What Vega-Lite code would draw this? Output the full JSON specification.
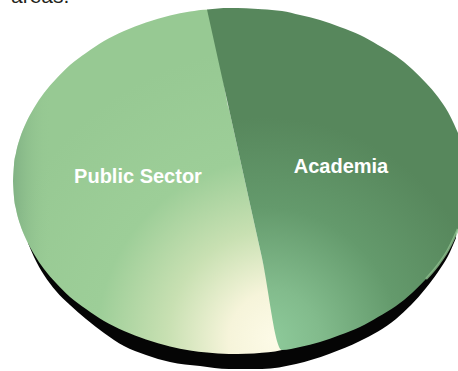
{
  "$schema": "https://vega.github.io/schema/vega-lite/v6.json",
  "width": 458,
  "height": 371,
  "padding": 0,
  "autosize": "none",
  "background": "#ffffff",
  "view": {"stroke": null},
  "datasets": {
    "rim": [
      {"x": 28, "top": 240, "bottom": 243},
      {"x": 34, "top": 252, "bottom": 257},
      {"x": 44, "top": 266, "bottom": 275},
      {"x": 56, "top": 280, "bottom": 291},
      {"x": 70, "top": 294, "bottom": 305},
      {"x": 86, "top": 306, "bottom": 319},
      {"x": 104, "top": 318, "bottom": 333},
      {"x": 124, "top": 328, "bottom": 346},
      {"x": 146, "top": 336, "bottom": 355},
      {"x": 170, "top": 343, "bottom": 362},
      {"x": 200, "top": 348, "bottom": 366},
      {"x": 229, "top": 351, "bottom": 369},
      {"x": 262, "top": 350, "bottom": 369},
      {"x": 296, "top": 344, "bottom": 364},
      {"x": 329, "top": 334, "bottom": 354},
      {"x": 360, "top": 324, "bottom": 341},
      {"x": 396, "top": 303, "bottom": 319},
      {"x": 426, "top": 276, "bottom": 288},
      {"x": 438, "top": 262, "bottom": 272},
      {"x": 448, "top": 247, "bottom": 256},
      {"x": 456, "top": 230, "bottom": 238}
    ],
    "publicSector": [
      {"x": 13, "top": 181, "bottom": 181},
      {"x": 14, "top": 165, "bottom": 197},
      {"x": 16, "top": 153, "bottom": 209},
      {"x": 20, "top": 138, "bottom": 224},
      {"x": 26, "top": 123, "bottom": 239},
      {"x": 34, "top": 108, "bottom": 254},
      {"x": 44, "top": 93, "bottom": 269},
      {"x": 56, "top": 79, "bottom": 283},
      {"x": 70, "top": 65, "bottom": 297},
      {"x": 86, "top": 53, "bottom": 309},
      {"x": 104, "top": 41, "bottom": 321},
      {"x": 124, "top": 31, "bottom": 331},
      {"x": 146, "top": 22.5, "bottom": 339.5},
      {"x": 170, "top": 15.6, "bottom": 346.4},
      {"x": 190, "top": 11.6, "bottom": 350.4},
      {"x": 207, "top": 9.4, "bottom": 352.6},
      {"x": 229, "top": 109, "bottom": 354},
      {"x": 246, "top": 186, "bottom": 353.8},
      {"x": 262, "top": 258, "bottom": 352.8},
      {"x": 275, "top": 317, "bottom": 351.4},
      {"x": 282, "top": 350, "bottom": 350}
    ],
    "academia": [
      {"x": 207, "top": 9.4, "bottom": 9.4},
      {"x": 229, "top": 8, "bottom": 109},
      {"x": 246, "top": 8.2, "bottom": 186},
      {"x": 262, "top": 9.2, "bottom": 258},
      {"x": 282, "top": 11, "bottom": 350},
      {"x": 300, "top": 15, "bottom": 347},
      {"x": 320, "top": 20, "bottom": 342},
      {"x": 340, "top": 27, "bottom": 335},
      {"x": 360, "top": 35, "bottom": 327},
      {"x": 378, "top": 45, "bottom": 317},
      {"x": 396, "top": 56, "bottom": 306},
      {"x": 412, "top": 69, "bottom": 293},
      {"x": 426, "top": 83, "bottom": 279},
      {"x": 438, "top": 97, "bottom": 265},
      {"x": 448, "top": 112, "bottom": 250},
      {"x": 454, "top": 124, "bottom": 238},
      {"x": 458, "top": 133, "bottom": 229}
    ],
    "labels": [
      {"x": 138, "y": 176.5, "label": "Public Sector"},
      {"x": 341, "y": 166.5, "label": "Academia"}
    ],
    "caption": [
      {"x": 11, "y": 3, "label": "areas."}
    ]
  },
  "encoding": {
    "x": {"field": "x", "type": "quantitative", "scale": {"domain": [0, 458], "nice": false, "zero": false}, "axis": null}
  },
  "layer": [
    {
      "data": {"name": "rim"},
      "mark": {"type": "area", "interpolate": "monotone", "color": "#050505"},
      "encoding": {
        "y": {"field": "top", "type": "quantitative", "scale": {"domain": [371, 0], "nice": false, "zero": false}, "axis": null},
        "y2": {"field": "bottom"}
      }
    },
    {
      "data": {"name": "publicSector"},
      "mark": {
        "type": "area",
        "interpolate": "monotone",
        "color": {
          "gradient": "radial",
          "x1": 0.88, "y1": 0.96, "r1": 0,
          "x2": 0.88, "y2": 0.96, "r2": 0.85,
          "stops": [
            {"offset": 0, "color": "#fdfbe8"},
            {"offset": 0.17, "color": "#f6f4da"},
            {"offset": 0.38, "color": "#c8e0b2"},
            {"offset": 0.62, "color": "#9dce98"},
            {"offset": 1, "color": "#97c993"}
          ]
        }
      },
      "encoding": {
        "y": {"field": "top", "type": "quantitative", "axis": null},
        "y2": {"field": "bottom"}
      }
    },
    {
      "data": {"name": "publicSector"},
      "mark": {
        "type": "area",
        "interpolate": "monotone",
        "color": {
          "gradient": "linear",
          "x1": 0, "y1": 0.5, "x2": 0.14, "y2": 0.5,
          "stops": [
            {"offset": 0, "color": "rgba(111,159,120,0.55)"},
            {"offset": 1, "color": "rgba(151,201,147,0)"}
          ]
        }
      },
      "encoding": {
        "y": {"field": "top", "type": "quantitative", "axis": null},
        "y2": {"field": "bottom"}
      }
    },
    {
      "data": {"name": "academia"},
      "mark": {
        "type": "area",
        "interpolate": "monotone",
        "color": {
          "gradient": "radial",
          "x1": 0.3, "y1": 0.98, "r1": 0,
          "x2": 0.3, "y2": 0.98, "r2": 0.66,
          "stops": [
            {"offset": 0, "color": "#8fcc9c"},
            {"offset": 0.25, "color": "#82bb8c"},
            {"offset": 0.6, "color": "#649a6c"},
            {"offset": 1, "color": "#57875c"}
          ]
        }
      },
      "encoding": {
        "y": {"field": "top", "type": "quantitative", "axis": null},
        "y2": {"field": "bottom"}
      }
    },
    {
      "data": {"name": "academia"},
      "transform": [{"filter": "datum.x >= 426"}],
      "mark": {"type": "line", "interpolate": "monotone", "color": "#8fc08f", "strokeWidth": 2.5, "opacity": 0.8},
      "encoding": {
        "y": {"field": "bottom", "type": "quantitative", "axis": null}
      }
    },
    {
      "data": {"name": "labels"},
      "mark": {"type": "text", "font": "Liberation Sans", "fontWeight": "bold", "fontSize": 20, "color": "#ffffff", "align": "center", "baseline": "middle"},
      "encoding": {
        "y": {"field": "y", "type": "quantitative", "axis": null},
        "text": {"field": "label"}
      }
    },
    {
      "data": {"name": "caption"},
      "mark": {"type": "text", "font": "Liberation Sans", "fontSize": 21, "color": "#231f20", "align": "left", "baseline": "alphabetic"},
      "encoding": {
        "y": {"field": "y", "type": "quantitative", "axis": null},
        "text": {"field": "label"}
      }
    }
  ]
}
